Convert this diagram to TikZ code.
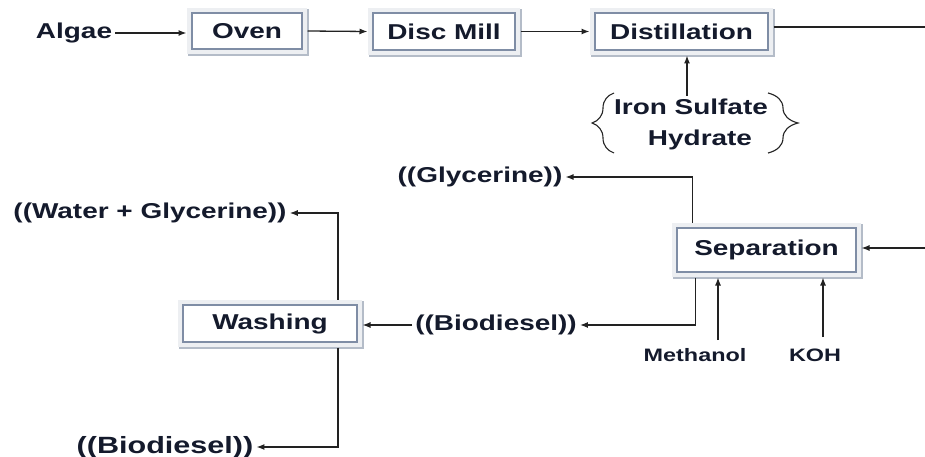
\documentclass[tikz,border=0pt]{standalone}
\usepackage{fontspec}
\setmainfont{Liberation Sans}[FakeStretch=1.3]
\usetikzlibrary{arrows.meta,decorations.pathreplacing}
\definecolor{txt}{HTML}{141A2C}
\definecolor{slate}{HTML}{7F8DA5}
\definecolor{frameg}{HTML}{EDEFF2}
\definecolor{shadowg}{HTML}{B4BCC8}
\definecolor{lnc}{HTML}{222222}
\begin{document}
\begin{tikzpicture}[x=1pt,y=-1pt,
  font=\fontsize{21.5}{24}\selectfont\bfseries,
  lbl/.style={text=txt, inner sep=3pt},
  small/.style={font=\fontsize{18}{20}\selectfont\bfseries},
  big/.style={font=\fontsize{23.5}{26}\selectfont\bfseries},
  box/.style={text=txt, draw=slate, line width=1.6pt, fill=white, outer sep=5.5pt,
    preaction={draw=shadowg, line width=11pt, transform canvas={shift={(1.5pt,-1.5pt)}}},
    preaction={draw=frameg, line width=10pt}},
  ln/.style={draw=lnc, line width=1.3pt},
  arr/.style={ln, -{Latex[length=8pt,width=6pt]}},
  brc/.style={draw=lnc, line width=1.1pt, decorate}]
\fill[white] (0,0) rectangle (925,457);
\useasboundingbox (0,0) rectangle (925,457);

\node[lbl] (algae) at (74,33) {Algae};
\node[box, minimum width=110pt, minimum height=36pt] (oven) at (247,31) {Oven};
\node[box, minimum width=142pt, minimum height=37pt] (mill) at (444,31.5) {Disc Mill};
\node[box, minimum width=173pt, minimum height=37pt] (dist) at (681.5,31.5) {Distillation};
\node[lbl] (iron) at (691,107) {Iron Sulfate};
\node[lbl] (hyd) at (700,140) {Hydrate};
\node[box, minimum width=179pt, minimum height=44pt] (sep) at (766.5,250) {Separation};
\node[lbl] (glyc) at (480,177) {((Glycerine))};
\node[lbl] (bio1) at (496,325) {((Biodiesel))};
\node[box, minimum width=174pt, minimum height=37pt] (wash) at (270,323.5) {Washing};
\node[lbl] (wg) at (150,213) {((Water + Glycerine))};
\node[lbl, big] (bio2) at (165,447) {((Biodiesel))};
\node[lbl, small] (meth) at (695,355) {Methanol};
\node[lbl, small] (koh) at (815,355) {KOH};

\coordinate (dend) at (925,27);
\coordinate (sin) at (925,248);
\coordinate (m1) at (718,340);
\coordinate (k1) at (823,337);

\draw[arr] (algae.east) -- (algae.east -| oven.west);
\draw[arr] (oven.east) -- (mill.west);
\draw[arr] (mill.east) -- (dist.west);
\draw[ln] (dist.east |- dend) -- (dend);
\draw[arr] ([xshift=-4pt]iron.north) -- ([xshift=-4pt]iron.north |- dist.south);
\draw[brc, decoration={brace, amplitude=22pt}] (614,153) -- (614,93);
\draw[brc, decoration={brace, amplitude=30pt}] (768,93) -- (768,153);

\draw[arr] ([xshift=-74pt]sep.north) |- (glyc.east);
\draw[arr] (sin) -- (sin -| sep.east);
\draw[arr] ([xshift=-71pt]sep.south) |- (bio1.east);
\draw[arr] (m1) -- (m1 |- sep.south);
\draw[arr] (k1) -- (k1 |- sep.south);
\draw[arr] (bio1.west) -- (bio1.west -| wash.east);
\draw[arr] ([xshift=68pt]wash.north) |- (wg.east);
\draw[arr] ([xshift=68pt]wash.south) |- (bio2.east);
\end{tikzpicture}
\end{document}
